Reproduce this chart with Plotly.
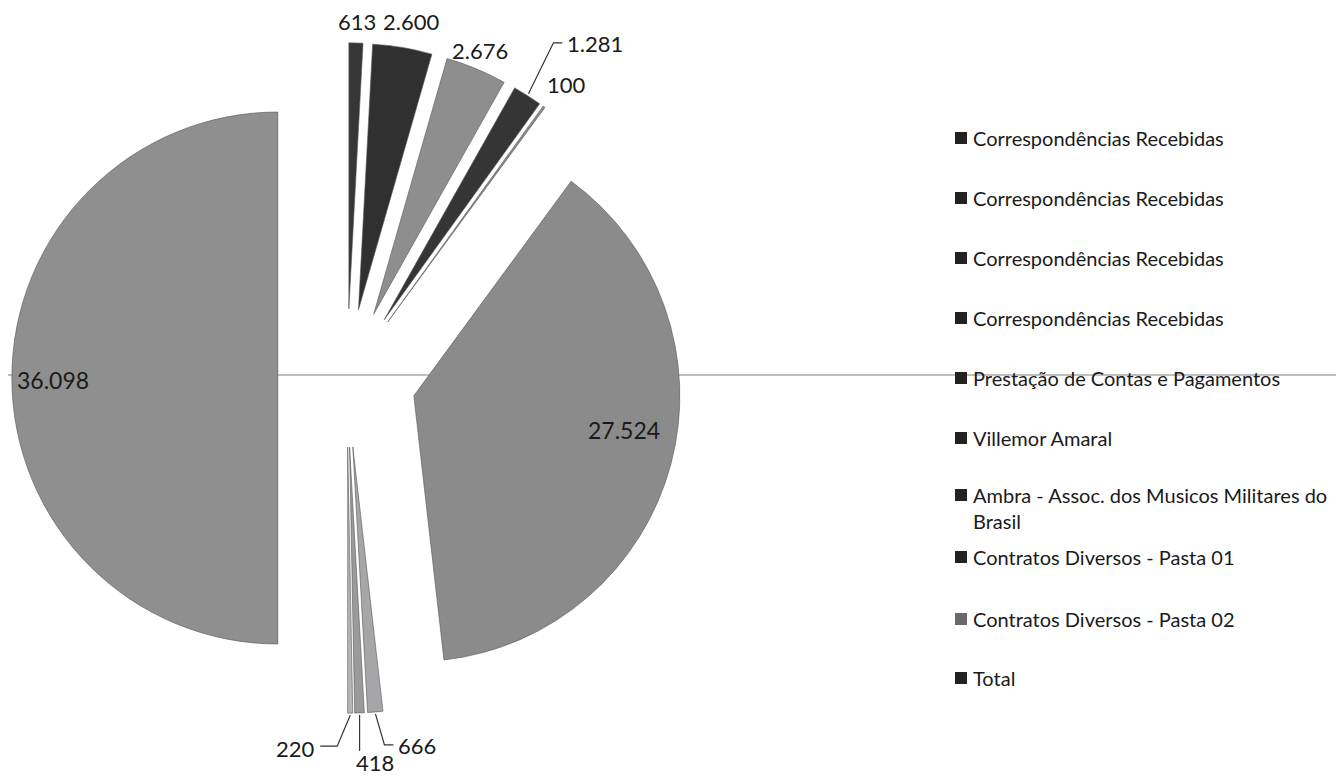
import math
import plotly.graph_objects as go

# ---------------- data ----------------
legend_names = [
    "Correspondências Recebidas",
    "Correspondências Recebidas",
    "Correspondências Recebidas",
    "Correspondências Recebidas",
    "Prestação de Contas e Pagamentos",
    "Villemor Amaral",
    "Ambra - Assoc. dos Musicos Militares do<br>Brasil",
    "Contratos Diversos - Pasta 01",
    "Contratos Diversos - Pasta 02",
    "Total",
]
# slice values, clockwise from 12 o'clock
slice_values = [613, 2600, 2676, 1281, 100, 27524, 666, 418, 220, 36098]

# ---------------- style ----------------
slice_colors = ["#363636", "#303030", "#8e8e8e", "#353535", "#8c8c8c",
                "#8b8b8b", "#a6a6a8", "#9b9b9b", "#b6b6b6", "#8f8f8f"]
legend_colors = ["#222222"] * 8 + ["#6a6a6a", "#222222"]
pulls = [0.26] * 10

VW, VH = 1344, 778          # browser viewport
OFF = 8                      # default page body margin
W, H = VW - OFF, VH - OFF    # figure size
CX, CY, R = 347, 378, 266    # pie geometry in viewport pixels
FONT = "Lato"
TXT = "#1a1a1a"
NUM_SIZE = 22
BIG_SIZE = 23


def px(x):
    return (x - OFF) / W


def py(y):
    return 1 - (y - OFF) / H


max_pull = max(pulls)
box = 2 * R * (1 + max_pull)
dom_x = [px(CX - box / 2), px(CX + box / 2)]
dom_y = [py(CY + box / 2), py(CY - box / 2)]

ids = [f"{n.replace('<br>', ' ')} ({i+1})" for i, n in enumerate(legend_names)]

fig = go.Figure(go.Pie(
    labels=ids,
    values=slice_values,
    sort=False,
    direction="clockwise",
    rotation=0,
    pull=pulls,
    textinfo="none",
    marker=dict(colors=slice_colors, line=dict(color="#555555", width=0.6)),
    domain=dict(x=dom_x, y=dom_y),
    showlegend=False,
    hovertemplate="%{label}: %{value:,}<extra></extra>",
))

total = sum(slice_values)
cum = 0
mids = []
for v in slice_values:
    mids.append(360 * (cum + v / 2) / total)
    cum += v


def origin(i):
    t = math.radians(mids[i])
    return CX + pulls[i] * R * math.sin(t), CY - pulls[i] * R * math.cos(t)


def pt(i, r, dphi=0.0):
    ox, oy = origin(i)
    p = math.radians(mids[i] + dphi)
    return ox + r * math.sin(p), oy - r * math.cos(p)


def fmt(v):
    return f"{v:,}".replace(",", ".")


annotations = []
shapes = []

# label placement style: (mode, radius offset/factor, dphi, xshift, yshift, size)
label_style = {
    0: ("out", 20, 0, 1, -1, NUM_SIZE),
    1: ("out", 20, 0, 5, -6, NUM_SIZE),
    2: ("out", 20, 0, -4, 0, NUM_SIZE),
    4: ("out", 20, 0, 11, -6, NUM_SIZE),
    5: ("in", 0.81, -5, -2, -3, BIG_SIZE),
    9: ("in", 0.86, 1, 4, 6, BIG_SIZE),
}
for i, (mode, rr, dphi, xs, ys, fs) in label_style.items():
    r = R + rr if mode == "out" else R * rr
    x, y = pt(i, r, dphi)
    annotations.append(dict(x=px(x + xs), y=py(y + ys), xref="paper", yref="paper",
                            text=fmt(slice_values[i]), showarrow=False,
                            font=dict(family=FONT, size=fs, color=TXT),
                            xanchor="center", yanchor="middle"))

# leader-line labels: (slice, dx1, dy1, dx2, text anchor)
leader_style = {
    3: (25, -51, 9, "left"),
    8: (-13, 31, -17, "right"),
    7: (0, 36, 0, "center"),
    6: (9, 31, 9, "left"),
}
for i, (dx1, dy1, dx2, anch) in leader_style.items():
    x0, y0 = pt(i, R + 2)
    x1, y1 = x0 + dx1, y0 + dy1
    x2, y2 = x1 + dx2, y1
    shapes.append(dict(type="path", xref="paper", yref="paper",
                       path=f"M {px(x0)} {py(y0)} L {px(x1)} {py(y1)} L {px(x2)} {py(y2)}",
                       line=dict(color="#333333", width=1.2)))
    if anch == "left":
        tx, ty, xa = x2 + 3, y2 + 1, "left"
    elif anch == "right":
        tx, ty, xa = x2 - 3, y2 + 2, "right"
    else:
        tx, ty, xa = x2 + 15, y2 + 12, "center"
    annotations.append(dict(x=px(tx), y=py(ty), xref="paper", yref="paper",
                            text=fmt(slice_values[i]), showarrow=False,
                            font=dict(family=FONT, size=NUM_SIZE, color=TXT),
                            xanchor=xa, yanchor="middle"))

# scan line across the page (behind the pie)
shapes.append(dict(type="line", xref="paper", yref="paper", layer="below",
                   x0=0, x1=1, y0=py(375), y1=py(375),
                   line=dict(color="#808080", width=1.2)))

# legend (drawn as text rows with square keys)
legend_rows = [137, 197, 257, 317, 377, 437, 494, 556, 618, 677]
for name, col, yrow in zip(legend_names, legend_colors, legend_rows):
    shapes.append(dict(type="rect", xref="paper", yref="paper",
                       x0=px(955), x1=px(967), y0=py(yrow + 7), y1=py(yrow - 5),
                       fillcolor=col, line=dict(width=0)))
    annotations.append(dict(x=px(971), y=py(yrow - 13), xref="paper", yref="paper",
                            text=name, showarrow=False, align="left",
                            font=dict(family=FONT, size=20, color=TXT),
                            xanchor="left", yanchor="top"))

fig.update_layout(
    width=W, height=H,
    margin=dict(l=0, r=0, t=0, b=0),
    paper_bgcolor="white",
    plot_bgcolor="white",
    separators=",.",
    annotations=annotations,
    shapes=shapes,
    showlegend=False,
)

fig.write_html("out.html")
